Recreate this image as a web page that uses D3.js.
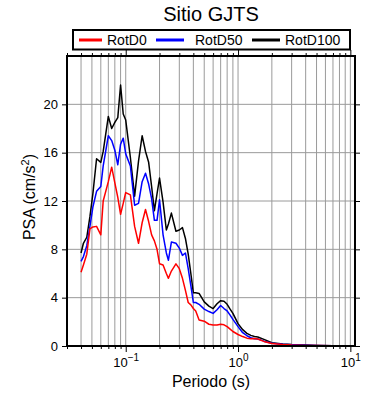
<!DOCTYPE html>
<html>
<head>
<meta charset="utf-8">
<script src="https://cdn.jsdelivr.net/npm/d3@7"></script>
<style>
  body { margin: 0; background: #fff; }
  svg { display: block; font-family: "Liberation Sans", Arial, Helvetica, sans-serif; }
</style>
</head>
<body>
<svg id="chart" width="390" height="400"></svg>
<script>
const title = "Sitio GJTS";
const xLabel = "Periodo (s)";
const seriesNames = ["RotD0", "RotD50", "RotD100"];
const seriesColors = ["#ff0000", "#0000ff", "#000000"];

const periods = [0.04, 0.042, 0.045, 0.048, 0.051, 0.055, 0.06, 0.063, 0.07, 0.075,
  0.08, 0.085, 0.09, 0.095, 0.1, 0.11, 0.12, 0.13, 0.14, 0.15,
  0.16, 0.17, 0.18, 0.19, 0.2, 0.215, 0.23, 0.24, 0.255, 0.28,
  0.3, 0.32, 0.34, 0.36, 0.38, 0.4, 0.42, 0.45, 0.5, 0.55,
  0.6, 0.65, 0.7, 0.75, 0.8, 0.85, 0.9, 1.0, 1.1, 1.2,
  1.3, 1.4, 1.5, 1.7, 2.0, 2.5, 3.0, 4.0, 5.0, 7.0, 10.0];

const rotD0 = [6.1, 6.7, 7.6, 9.7, 9.85, 9.9, 9.2, 12.0, 13.6, 14.8,
  13.5, 12.3, 10.9, 11.8, 12.7, 12.5, 9.9, 8.5, 10.2, 11.3,
  10.3, 9.2, 8.7, 8.0, 6.8, 6.7, 6.0, 5.6, 6.2, 6.8,
  6.4, 5.6, 4.6, 3.6, 3.4, 3.1, 2.9, 2.15, 2.05, 1.8,
  1.74, 1.74, 1.8, 1.75, 1.6, 1.4, 1.2, 0.95, 0.78, 0.65,
  0.6, 0.62, 0.58, 0.38, 0.2, 0.12, 0.08, 0.05, 0.04, 0.02, 0.02];

const rotD50 = [7.0, 7.4, 8.3, 9.9, 11.5, 12.8, 13.2, 14.9, 17.4, 17.0,
  16.2, 15.0, 16.7, 17.2, 15.9, 14.9, 11.65, 11.8, 13.6, 14.3,
  13.4, 12.2, 10.4, 10.4, 12.1, 9.2, 7.7, 7.1, 8.6, 8.5,
  8.1, 7.5, 7.7, 6.4, 5.0, 3.6, 3.6, 3.45, 3.05, 2.85,
  2.7, 3.0, 3.35, 3.1, 2.9, 2.55, 2.2, 1.6, 1.1, 0.85,
  0.68, 0.6, 0.58, 0.4, 0.22, 0.14, 0.1, 0.06, 0.04, 0.03, 0.02];

const rotD100 = [7.7, 8.5, 9.0, 10.7, 12.6, 15.5, 15.2, 16.1, 19.0, 18.0,
  18.5, 18.9, 21.6, 19.2, 18.7, 15.6, 12.4, 15.3, 17.4, 16.1,
  15.2, 13.2, 11.2, 12.6, 13.9, 11.9, 9.6, 10.1, 11.0, 9.5,
  9.6, 9.8, 8.9, 7.6, 6.0, 4.4, 4.4, 4.35, 3.65, 3.3,
  3.1, 3.5, 3.75, 3.7, 3.45, 3.05, 2.7, 1.85, 1.35, 1.05,
  0.88, 0.78, 0.75, 0.55, 0.27, 0.17, 0.12, 0.08, 0.05, 0.03, 0.02];

const yTicks = [0, 4, 8, 12, 16, 20];
const xDecades = [0.1, 1, 10];
const xDecadeExp = ["\u22121", "0", "1"];

const svg = d3.select("#chart");
const L = 67, R = 355, T = 56, B = 346;
const x = d3.scaleLog().domain([0.03, 11]).range([L, R]);
const y = d3.scaleLinear().domain([0, 24]).range([B, T]);

// minor tick values
const minorVals = [];
[0.01, 0.1, 1, 10].forEach(d => { for (let k = 1; k <= 9; k++) { const v = d * k; if (v >= 0.03 && v <= 11) minorVals.push(+v.toPrecision(3)); } });

// grid
const grid = svg.append("g");
grid.selectAll("line.v").data(minorVals).join("line")
  .attr("x1", d => x(d)).attr("x2", d => x(d)).attr("y1", T).attr("y2", B)
  .attr("stroke", "#9a9a9a").attr("stroke-width", 1);
grid.selectAll("line.h").data(yTicks.filter(d => d > 0)).join("line")
  .attr("x1", L).attr("x2", R).attr("y1", d => y(d)).attr("y2", d => y(d))
  .attr("stroke", "#9a9a9a").attr("stroke-width", 1);

// lines
const series = [rotD0, rotD50, rotD100];
const line = d3.line().x((d, i) => x(periods[i])).y(d => y(d));
const order = [2, 1, 0];
order.forEach(si => {
  svg.append("path").datum(series[si])
    .attr("fill", "none").attr("stroke", seriesColors[si]).attr("stroke-width", 1.5)
    .attr("stroke-linejoin", "round").attr("d", line);
});

// axes
function styleAxis(g) {
  g.select(".domain").remove();
  g.selectAll(".tick line").attr("stroke", "#000").attr("stroke-width", 1);
  g.selectAll("text").attr("font-size", 13).attr("fill", "#000").attr("font-family", "Liberation Sans, Arial, sans-serif");
}
// bottom minor
svg.append("g").attr("transform", `translate(0,${B})`)
  .call(d3.axisBottom(x).tickValues(minorVals.filter(v => !xDecades.includes(v))).tickSize(3).tickFormat(""))
  .call(styleAxis);
// bottom major
const bx = svg.append("g").attr("transform", `translate(0,${B})`)
  .call(d3.axisBottom(x).tickValues(xDecades).tickSize(6).tickFormat(""))
  .call(styleAxis);
bx.selectAll(".tick").append("text")
  .attr("y", 21).attr("text-anchor", "middle").attr("font-size", 13).attr("fill", "#000")
  .each(function(d, i) {
    const t = d3.select(this);
    t.append("tspan").text("10");
    t.append("tspan").attr("dy", -6).attr("font-size", 10).text(xDecadeExp[i]);
  });
// top
svg.append("g").attr("transform", `translate(0,${T})`)
  .call(d3.axisTop(x).tickValues(minorVals.filter(v => !xDecades.includes(v))).tickSize(3).tickFormat(""))
  .call(styleAxis);
svg.append("g").attr("transform", `translate(0,${T})`)
  .call(d3.axisTop(x).tickValues(xDecades).tickSize(6).tickFormat(""))
  .call(styleAxis);
// left
svg.append("g").attr("transform", `translate(${L},0)`)
  .call(d3.axisLeft(y).tickValues(yTicks).tickSize(5).tickPadding(4).tickFormat(d3.format("d")))
  .call(styleAxis);
// right
svg.append("g").attr("transform", `translate(${R},0)`)
  .call(d3.axisRight(y).tickValues(yTicks).tickSize(5).tickFormat(""))
  .call(styleAxis);

// frame
svg.append("rect").attr("x", L).attr("y", T).attr("width", R - L).attr("height", B - T)
  .attr("fill", "none").attr("stroke", "#000").attr("stroke-width", 2);

// title
svg.append("text").attr("x", 211).attr("y", 21).attr("text-anchor", "middle")
  .attr("font-size", 20).attr("fill", "#000").text(title);

// legend
svg.append("rect").attr("x", 73).attr("y", 30).attr("width", 277).attr("height", 19.5)
  .attr("fill", "#fff").attr("stroke", "#000").attr("stroke-width", 2);
const legX = [[79, 102, 107], [156, 184, 195], [252, 280, 285]];
seriesNames.forEach((n, i) => {
  svg.append("line").attr("x1", legX[i][0]).attr("x2", legX[i][1]).attr("y1", 40).attr("y2", 40)
    .attr("stroke", seriesColors[i]).attr("stroke-width", 3);
  svg.append("text").attr("x", legX[i][2]).attr("y", 45).attr("font-size", 14).attr("fill", "#000").text(n);
});

// axis labels
svg.append("text").attr("x", 211).attr("y", 387).attr("text-anchor", "middle")
  .attr("font-size", 16).attr("fill", "#000").text(xLabel);
const yl = svg.append("text").attr("transform", "translate(35,197) rotate(-90)")
  .attr("text-anchor", "middle").attr("font-size", 16).attr("fill", "#000");
yl.append("tspan").text("PSA (cm/s");
yl.append("tspan").attr("dy", -6).attr("font-size", 11).text("2");
yl.append("tspan").attr("dy", 6).text(")");
</script>
</body>
</html>
